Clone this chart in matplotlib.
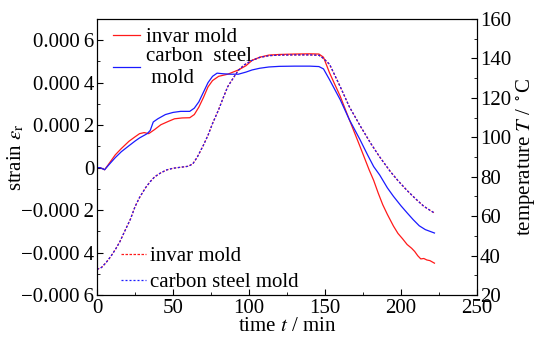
import matplotlib
matplotlib.use("Agg")
import matplotlib.pyplot as plt
from matplotlib.ticker import MultipleLocator, FuncFormatter

plt.rcParams["font.family"] = ["Liberation Serif", "DejaVu Serif"]
plt.rcParams["mathtext.fontset"] = "stix"
plt.rcParams["axes.unicode_minus"] = True

# strain of the invar mold (x 1e-4)
t_invar = [0, 2, 5, 8, 12, 16, 21, 25, 28, 31, 34, 38, 42, 47, 51, 56, 61, 64, 67,
           70, 73, 76, 80, 86, 93, 98, 102, 107, 113, 120, 130, 140, 146, 149, 153,
           160, 166, 173, 179, 182, 185, 188, 191, 195, 198, 201, 204, 207, 209, 211,
           213, 215, 217, 219, 222]
strain_invar = [0.0, 0.0, -0.1, 0.2, 0.6, 0.9, 1.24, 1.45, 1.6, 1.65, 1.6, 1.8, 2.02,
                2.18, 2.3, 2.34, 2.35, 2.5, 2.85, 3.3, 3.8, 4.1, 4.3, 4.4, 4.6, 4.8,
                5.05, 5.2, 5.3, 5.33, 5.35, 5.36, 5.35, 5.2, 4.46, 3.36, 2.26, 1.0,
                -0.1, -0.6, -1.2, -1.75, -2.2, -2.75, -3.1, -3.35, -3.62, -3.8,
                -3.95, -4.15, -4.3, -4.28, -4.35, -4.38, -4.5]

# strain of the carbon steel mold (x 1e-4)
t_steel = [0, 2, 5, 8, 12, 16, 21, 25, 28, 31, 33, 35, 37, 40, 45, 50, 55, 61, 64, 67,
           70, 73, 76, 79, 83, 88, 93, 98, 102, 107, 113, 120, 130, 140, 146, 149,
           153, 160, 166, 173, 178, 182, 186, 191, 195, 200, 204, 208, 212, 216, 219,
           222]
strain_steel = [0.0, 0.0, -0.1, 0.15, 0.47, 0.75, 1.03, 1.25, 1.4, 1.52, 1.6, 1.75,
                2.15, 2.3, 2.5, 2.6, 2.65, 2.65, 2.8, 3.1, 3.55, 4.0, 4.3, 4.45, 4.42,
                4.4, 4.4, 4.5, 4.6, 4.68, 4.74, 4.77, 4.78, 4.78, 4.76, 4.65, 4.14,
                3.2, 2.26, 1.32, 0.6, 0.05, -0.35, -0.95, -1.35, -1.8, -2.13, -2.45,
                -2.74, -2.92, -3.0, -3.08]

# mold temperature (deg C)
t_temp = [0, 3, 6, 9, 12, 15, 18, 22, 25, 28, 32, 35, 38, 42, 46, 50, 55, 60, 63, 66,
          70, 73, 76, 80, 83, 86, 90, 93, 97, 102, 107, 113, 120, 130, 140, 146, 149,
          153, 160, 166, 173, 180, 186, 193, 198, 204, 210, 215, 219, 222]
temp_invar = [33.0, 34.0, 36.5, 39.5, 43, 47, 52, 58.5, 64.8, 69.5, 74.5, 77.5, 80, 82,
              83.5, 84.3, 84.8, 85.3, 86.5, 90, 96, 101, 107, 114, 120, 125.7, 130.5,
              134, 136.8, 139, 140.5, 141.4, 141.7, 141.8, 141.8, 141.6, 140, 137,
              125.7, 115.5, 106, 97, 90, 82.6, 78, 73, 68.5, 65, 63, 61.6]
temp_steel = [33.0, 34.0, 36.5, 39.5, 43, 47, 52, 58.5, 64.8, 69.5, 74.5, 77.5, 80, 82,
              83.5, 84.3, 84.8, 85.3, 86.5, 90, 96, 101, 107, 114, 120, 125.7, 130.5,
              134, 136.8, 139, 140.5, 141.4, 141.7, 141.8, 141.8, 141.6, 140, 137,
              125.7, 115.5, 106, 97, 90, 82.6, 78, 73, 68.5, 65, 63, 61.6]

FS = 15

fig = plt.figure(figsize=(5.39, 3.37), dpi=100)
ax = fig.add_axes([0.18, 0.1246, 0.705, 0.819])
ax2 = ax.twinx()

l1, = ax.plot(t_invar, [v * 1e-4 for v in strain_invar], color="#ff1a1a", lw=0.9,
              label="invar mold")
l2, = ax.plot(t_steel, [v * 1e-4 for v in strain_steel], color="#1a1aff", lw=0.9,
              label="carbon  steel\n mold")
d1, = ax2.plot(t_temp, temp_invar, color="#ff1a1a", lw=0.9, dashes=(2, 1.2),
               label="invar mold")
d2, = ax2.plot(t_temp, temp_steel, color="#1a1aff", lw=0.9, dashes=(1.6, 1.6),
               label="carbon steel mold")

ax.set_xlim(0, 250)
ax.set_ylim(-0.0006, 0.0007)
ax2.set_ylim(20, 160)

ax.xaxis.set_major_locator(MultipleLocator(50))
ax.xaxis.set_minor_locator(MultipleLocator(25))
ax.yaxis.set_major_locator(MultipleLocator(0.0002))
ax.yaxis.set_minor_locator(MultipleLocator(0.0001))
ax2.yaxis.set_major_locator(MultipleLocator(20))
ax2.yaxis.set_minor_locator(MultipleLocator(10))


def strain_fmt(v, pos):
    if abs(v) < 1e-9:
        return "0"
    s = f"{abs(v):.4f}"
    s = s[:-1] + "\u2009" + s[-1]
    return ("\u2212" if v < 0 else "") + s


ax.yaxis.set_major_formatter(FuncFormatter(strain_fmt))

ax.tick_params(axis="both", which="both", direction="in", labelsize=FS, pad=2)
ax.tick_params(which="major", length=4)
ax.tick_params(which="minor", length=2.5)
ax.tick_params(axis="y", right=False)
ax.tick_params(axis="x", top=False, pad=3)
ax2.tick_params(axis="y", which="both", direction="in", labelsize=FS, pad=2)
ax2.tick_params(which="major", length=4)
ax2.tick_params(which="minor", length=2.5)

ax.set_xlabel(r"time $t$ / min", fontsize=FS, labelpad=-1)
ax.set_ylabel(r"strain $\varepsilon_{\mathrm{r}}$", fontsize=FS, labelpad=-4)
ax2.set_ylabel(r"temperature $T$ / $^\circ$C", fontsize=FS, labelpad=2)

leg1 = ax.legend(handles=[l1, l2], loc="upper left", bbox_to_anchor=(0.02, 1.0),
                 frameon=False, fontsize=FS, handlelength=1.3, handletextpad=0.3,
                 labelspacing=0.0, borderaxespad=0)
ax.add_artist(leg1)
ax.legend(handles=[d1, d2], loc="lower left", bbox_to_anchor=(0.04, -0.02),
          frameon=False, fontsize=FS, handlelength=1.2, handletextpad=0.2,
          labelspacing=0.3, borderaxespad=0)

fig.savefig("out.png", dpi=100)
